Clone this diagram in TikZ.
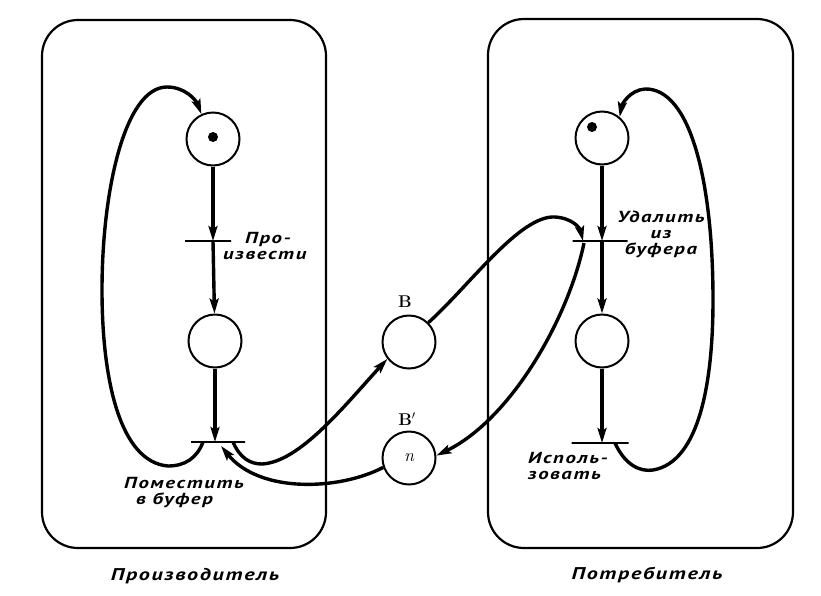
\documentclass[tikz,border=0pt]{standalone}
\usepackage{fontspec}
\newfontfamily\hand[FakeStretch=1.3,LetterSpace=10]{PT Sans}
\usetikzlibrary{arrows.meta}
\tikzset{
  box/.style={draw, line width=2.2pt, rounded corners=36pt},
  place/.style={circle, draw, line width=2pt, minimum size=53pt, inner sep=0pt},
  bar/.style={draw, line width=1.6pt, rectangle, inner sep=0pt, minimum height=0pt},
  arc/.style={line width=3.4pt, -{Stealth[length=15pt,width=9pt,inset=3pt]}},
  lbl/.style={font=\hand\bfseries\itshape\fontsize{16}{16}\selectfont, inner sep=0pt},
  biglbl/.style={font=\hand\bfseries\itshape\fontsize{17}{18}\selectfont, inner sep=0pt},
  blbl/.style={font=\bfseries\fontsize{17}{18}\selectfont, inner sep=0pt},
  token/.style={circle, fill=black, inner sep=0pt, minimum size=10pt}
}
\begin{document}
\begin{tikzpicture}[x=1pt,y=-1pt]
\useasboundingbox[fill=white] (0,0) rectangle (821,595);
% boxes
\draw[box] (42,20) rectangle (326,548);
\draw[box] (488,19) rectangle (793,548);
% producer
\node[place] (p1) at (213,139) {};
\node[token] (p1tok) at (213,137) {};
\node[bar, minimum width=46pt] (t1) at (208,241) {};
\node[place] (p2) at (215,341) {};
\node[bar, minimum width=54pt] (t2) at (218,442) {};
% consumer
\node[place] (q1) at (602,138) {};
\node[token] (q1tok) at (592,127) {};
\node[bar, minimum width=55pt] (u1) at (600,241) {};
\node[place] (q2) at (602,341) {};
\node[bar, minimum width=57pt] (u2) at (600,443) {};
% buffer places
\node[place] (B) at (409,342) {};
\node[place] (Bp) at (409,458) {\fontsize{18}{18}\selectfont\itshape n};
\node[blbl] (Blab) at (405,302) {B};
\node[blbl] (Bplab) at (407,419) {B$'$};
% vertical arcs
\draw[arc] (p1) -- (p1 |- t1);
\draw[arc] (p1 |- t1) -- (p2);
\draw[arc] (p2) -- (p2 |- t2);
\draw[arc] (q1) -- (q1 |- u1);
\draw[arc] (q1 |- u1) -- (q2);
\draw[arc] (q2) -- (q2 |- u2);
% producer loop
\draw[arc] ([xshift=-15pt]t2.center) .. controls (197,458) and (185,466) .. (168,466)
  .. controls (120,462) and (102,380) .. (102,290)
  .. controls (102,190) and (125,87) .. (167,87)
  .. controls (185,87) and (196,100) .. (p1.115);
% consumer loop
\draw[arc] ([xshift=15pt]u2.center) .. controls (625,465) and (640,472) .. (653,470)
  .. controls (700,462) and (713,380) .. (713,300)
  .. controls (713,180) and (690,88) .. (645,89)
  .. controls (630,90) and (622,104) .. (q1.50);
% cross arcs
\draw[arc] ([xshift=15pt]t2.center) .. controls (240,458) and (250,464) .. (262,464)
  .. controls (300,462) and (345,405) .. (B.218);
\draw[arc] (B.45) .. controls (470,285) and (520,215) .. (555,217)
  .. controls (572,218) and (580,228) .. ([xshift=-17pt]u1.center);
\draw[arc] ([xshift=-16pt,yshift=-2pt]u1.center) .. controls (568,320) and (510,420) .. (Bp.5);
\draw[arc] (Bp.200) .. controls (340,490) and (260,494) .. ([xshift=3pt,yshift=-4pt]t2.center);
% labels
\node[lbl, anchor=north west, align=left] (l1) at (223,232) {\hspace*{22pt}Про-\\извести};
\node[lbl, anchor=north west, align=left] (l2) at (124,477) {Поместить\\\hspace*{12pt}в буфер};
\node[lbl, anchor=north, align=center] (l3) at (661,211) {Удалить\\из\\буфера};
\node[lbl, anchor=north west, align=left] (l4) at (528,452) {Исполь-\\зовать};
\node[biglbl] (c1) at (195,576) {Производитель};
\node[biglbl] (c2) at (647,575) {Потребитель};
\end{tikzpicture}
\end{document}
